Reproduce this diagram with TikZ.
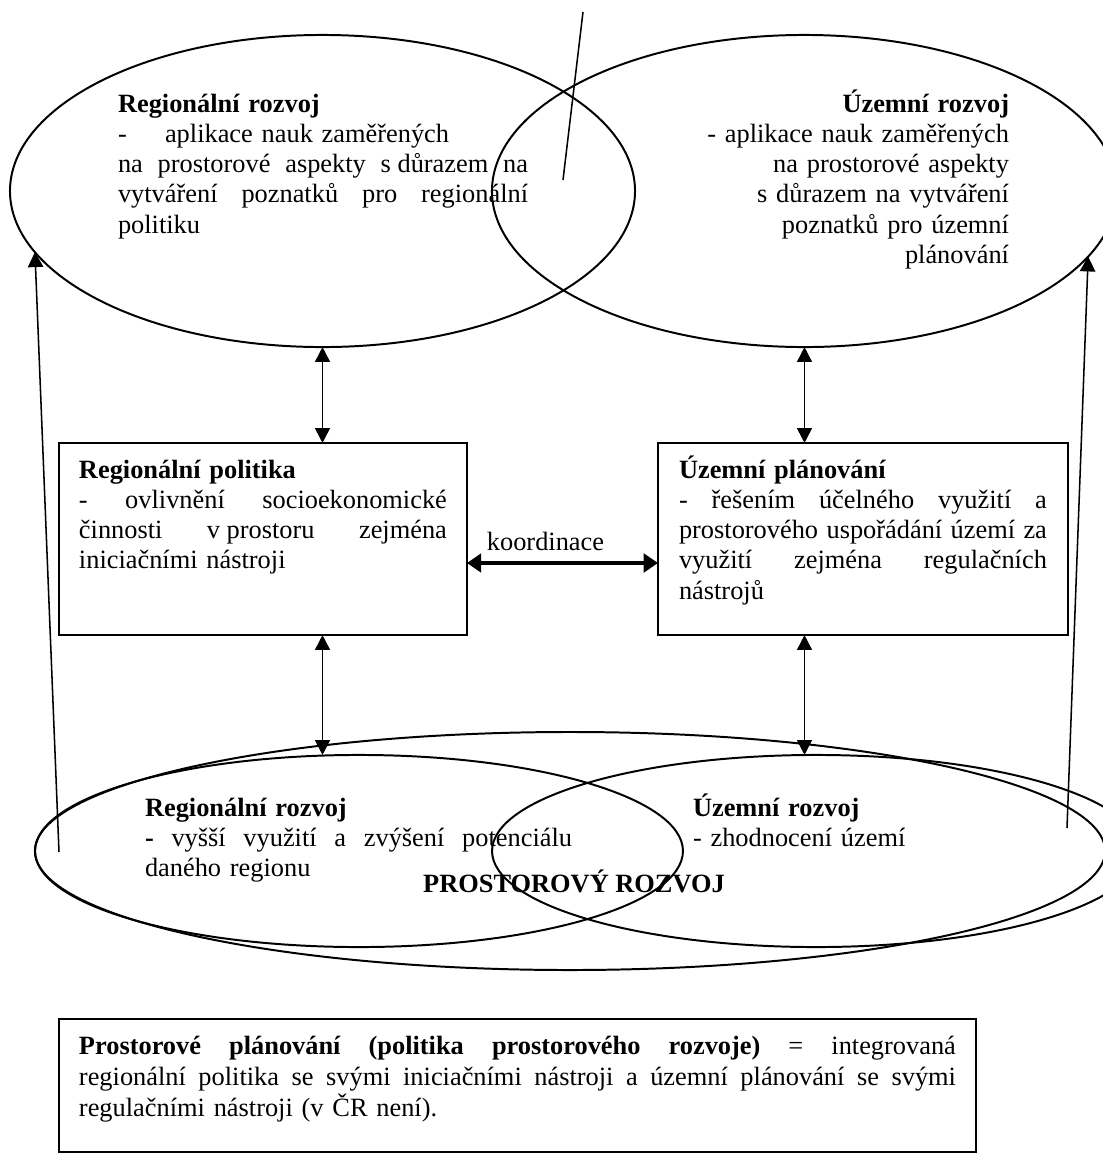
\documentclass[tikz,border=0pt]{standalone}
\usepackage{fontspec}
\setmainfont{Liberation Serif}
\usetikzlibrary{shapes.geometric,arrows.meta}
\newcommand\myjust[2]{\makebox[#1][s]{\spaceskip=0.25em plus 1fil\xspaceskip=0.25em plus 1fil\relax #2}}
\begin{document}
\begin{tikzpicture}[x=0.455pt,y=-0.455pt,
  ell/.style={ellipse,draw,line width=0.9pt,inner sep=0pt,outer sep=0pt},
  frame/.style={rectangle,draw,line width=0.9pt,inner sep=0pt,outer sep=0pt},
  txt/.style={inner sep=0pt,outer sep=0pt,font=\fontsize{12pt}{13.8pt}\selectfont},
  biarrow/.style={line width=0.8pt,{Triangle[length=6.8pt,width=6.8pt]}-{Triangle[length=6.8pt,width=6.8pt]}},
  coordarrow/.style={line width=1.4pt,{Triangle[length=6.5pt,width=8.5pt]}-{Triangle[length=6.5pt,width=8.5pt]}},
  uparrow/.style={line width=0.7pt,-{Triangle[length=6.8pt,width=7pt]}},
  stray/.style={line width=0.7pt}]
\useasboundingbox (0,0) rectangle (1103,1159);
\fill[white] (0,0) rectangle (1103,1159);

% ellipses
\node[ell,minimum width=284.4pt,minimum height=142pt] (topL) at (322.5,191) {};
\node[ell,minimum width=284.4pt,minimum height=142pt] (topR) at (804.5,191) {};
\node[ell,minimum width=294.8pt,minimum height=87.4pt] (botL) at (359,851) {};
\node[ell,minimum width=294.8pt,minimum height=87.4pt] (botR) at (816,851) {};
\node[ell,minimum width=486.9pt,minimum height=108.3pt] (outer) at (570,851) {};

% boxes
\node[frame,minimum width=185.6pt,minimum height=87.4pt] (boxL) at (263,539) {};
\node[frame,minimum width=186.6pt,minimum height=87.4pt] (boxR) at (863,539) {};
\node[frame,minimum width=417.2pt,minimum height=60.5pt] (boxB) at (517.5,1085.5) {};

% texts
\node[txt,anchor=base west,text width=186.6pt] (tRR) at (118,112)
  {\textbf{Regionální rozvoj}\\
   \makebox[21.4pt][l]{-}aplikace nauk zaměřených\\
   \myjust{186.6pt}{na prostorové aspekty \mbox{s důrazem} na}\\
   \myjust{186.6pt}{vytváření poznatků pro regionální}\\
   politiku};
\node[txt,anchor=base east,text width=140pt] (tUR) at (1009,112)
  {\raggedleft\textbf{Územní rozvoj}\\
   - aplikace nauk zaměřených\\
   na prostorové aspekty\\
   s důrazem na vytváření\\
   poznatků pro územní\\
   plánování\par};
\node[txt,anchor=base west,text width=167.4pt] (tRP) at (79,478)
  {\textbf{Regionální politika}\\
   \myjust{167.4pt}{- ovlivnění socioekonomické}\\
   \myjust{167.4pt}{činnosti \mbox{v prostoru} zejména}\\
   iniciačními nástroji};
\node[txt,anchor=base west,text width=167.4pt] (tUP) at (679,478)
  {\textbf{Územní plánování}\\
   \myjust{167.4pt}{- řešením účelného využití a}\\
   \myjust{167.4pt}{prostorového uspořádání území za}\\
   \myjust{167.4pt}{využití zejména regulačních}\\
   nástrojů};
\node[txt,anchor=base] (tKo) at (545.5,550) {koordinace};
\node[txt,anchor=base west,text width=194.3pt] (bRR) at (145,816)
  {\textbf{Regionální rozvoj}\\
   \myjust{194.3pt}{\textbf{-} vyšší využití a zvýšení potenciálu}\\
   daného regionu};
\node[txt,anchor=base west,text width=120pt] (bUR) at (693,816)
  {\textbf{Územní rozvoj}\\
   - zhodnocení území};
\node[txt,anchor=base,font=\fontsize{12pt}{13.8pt}\selectfont\bfseries] (tPR) at (574,892) {PROSTOROVÝ ROZVOJ};
\node[txt,anchor=base west,text width=399pt,font=\fontsize{12pt}{14.3pt}\selectfont] (tPP) at (79,1054)
  {\myjust{399pt}{\textbf{Prostorové plánování (politika prostorového rozvoje)} = integrovaná}\\
   \myjust{399pt}{regionální politika se svými iniciačními nástroji a územní plánování se svými}\\
   regulačními nástroji (v ČR není).};

% connectors
\draw[biarrow] (topL.south) -- (topL.south |- boxL.north);
\draw[biarrow] (topR.south) -- (topR.south |- boxR.north);
\draw[biarrow] (boxL.south -| topL.south) -- (topL.south |- botL.north);
\draw[biarrow] (boxR.south -| topR.south) -- (topR.south |- botR.north);
\coordinate (kc) at (560,563);
\draw[coordarrow] (boxL.east |- kc) -- (boxR.west |- kc);
\coordinate (lfoot) at (59,852);
\coordinate (rfoot) at (1067,828);
\draw[uparrow] (lfoot) -- (topL.192);
\draw[uparrow] (rfoot) -- (topR.347);
\coordinate (s1) at (583,12);
\coordinate (s2) at (563,180);
\draw[stray] (s1) -- (s2);
\end{tikzpicture}
\end{document}
